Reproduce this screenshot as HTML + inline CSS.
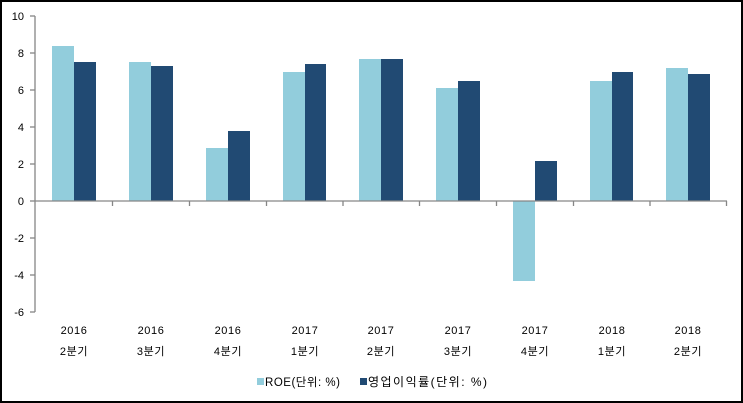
<!DOCTYPE html>
<html><head><meta charset="utf-8"><style>
html,body{margin:0;padding:0;background:#fff;}
svg{display:block;}
text{font-family:"Liberation Sans","Noto Sans CJK KR","NanumGothic",sans-serif;fill:#000;}
</style></head><body>
<svg width="743" height="403" viewBox="0 0 743 403" xmlns="http://www.w3.org/2000/svg">
<rect x="1" y="1" width="741" height="401" fill="#fff" stroke="#000" stroke-width="2"/>
<g fill="#92CDDC">
<rect x="52" y="46" width="22" height="155"/>
<rect x="129" y="62" width="22" height="139"/>
<rect x="206" y="148" width="22" height="53"/>
<rect x="283" y="72" width="22" height="129"/>
<rect x="359" y="59" width="22" height="142"/>
<rect x="436" y="88" width="22" height="113"/>
<rect x="513" y="201" width="22" height="80"/>
<rect x="590" y="81" width="22" height="120"/>
<rect x="666" y="68" width="22" height="133"/>
</g>
<g fill="#214A73">
<rect x="74" y="62" width="22" height="139"/>
<rect x="151" y="66" width="22" height="135"/>
<rect x="228" y="131" width="22" height="70"/>
<rect x="305" y="64" width="21" height="137"/>
<rect x="381" y="59" width="22" height="142"/>
<rect x="458" y="81" width="22" height="120"/>
<rect x="535" y="161" width="22" height="40"/>
<rect x="612" y="72" width="21" height="129"/>
<rect x="688" y="74" width="22" height="127"/>
</g>
<g stroke="#868686" stroke-width="1.3" fill="none">
<line x1="35" y1="16" x2="35" y2="312"/>
<line x1="30" y1="16" x2="35" y2="16"/>
<line x1="30" y1="53" x2="35" y2="53"/>
<line x1="30" y1="90" x2="35" y2="90"/>
<line x1="30" y1="127" x2="35" y2="127"/>
<line x1="30" y1="164" x2="35" y2="164"/>
<line x1="30" y1="201" x2="35" y2="201"/>
<line x1="30" y1="238" x2="35" y2="238"/>
<line x1="30" y1="275" x2="35" y2="275"/>
<line x1="30" y1="312" x2="35" y2="312"/>
<line x1="35" y1="201" x2="727" y2="201"/>
<line x1="112.5" y1="201" x2="112.5" y2="206"/>
<line x1="189.5" y1="201" x2="189.5" y2="206"/>
<line x1="266.5" y1="201" x2="266.5" y2="206"/>
<line x1="343" y1="201" x2="343" y2="206"/>
<line x1="419.5" y1="201" x2="419.5" y2="206"/>
<line x1="496.5" y1="201" x2="496.5" y2="206"/>
<line x1="573.5" y1="201" x2="573.5" y2="206"/>
<line x1="650" y1="201" x2="650" y2="206"/>
<line x1="726.5" y1="201" x2="726.5" y2="206"/>
</g>
<g font-size="11" text-anchor="end">
<text x="24" y="20">10</text>
<text x="24" y="57">8</text>
<text x="24" y="94">6</text>
<text x="24" y="131">4</text>
<text x="24" y="168">2</text>
<text x="24" y="205">0</text>
<text x="24" y="242">-2</text>
<text x="24" y="279">-4</text>
<text x="24" y="316">-6</text>
</g>
<g font-size="11" text-anchor="middle" letter-spacing="0.6">
<text x="74" y="334">2016</text><text x="74" y="355">2분기</text>
<text x="151" y="334">2016</text><text x="151" y="355">3분기</text>
<text x="228" y="334">2016</text><text x="228" y="355">4분기</text>
<text x="305" y="334">2017</text><text x="305" y="355">1분기</text>
<text x="381" y="334">2017</text><text x="381" y="355">2분기</text>
<text x="458" y="334">2017</text><text x="458" y="355">3분기</text>
<text x="535" y="334">2017</text><text x="535" y="355">4분기</text>
<text x="612" y="334">2018</text><text x="612" y="355">1분기</text>
<text x="688" y="334">2018</text><text x="688" y="355">2분기</text>
</g>
<rect x="257" y="378" width="7" height="7" fill="#92CDDC"/>
<text x="265" y="386" font-size="11.5" textLength="75" lengthAdjust="spacing">ROE(단위: %)</text>
<rect x="360" y="378" width="7" height="7" fill="#214A73"/>
<text x="368" y="386" font-size="12" textLength="119" lengthAdjust="spacing">영업이익률(단위: %)</text>
</svg>
</body></html>
